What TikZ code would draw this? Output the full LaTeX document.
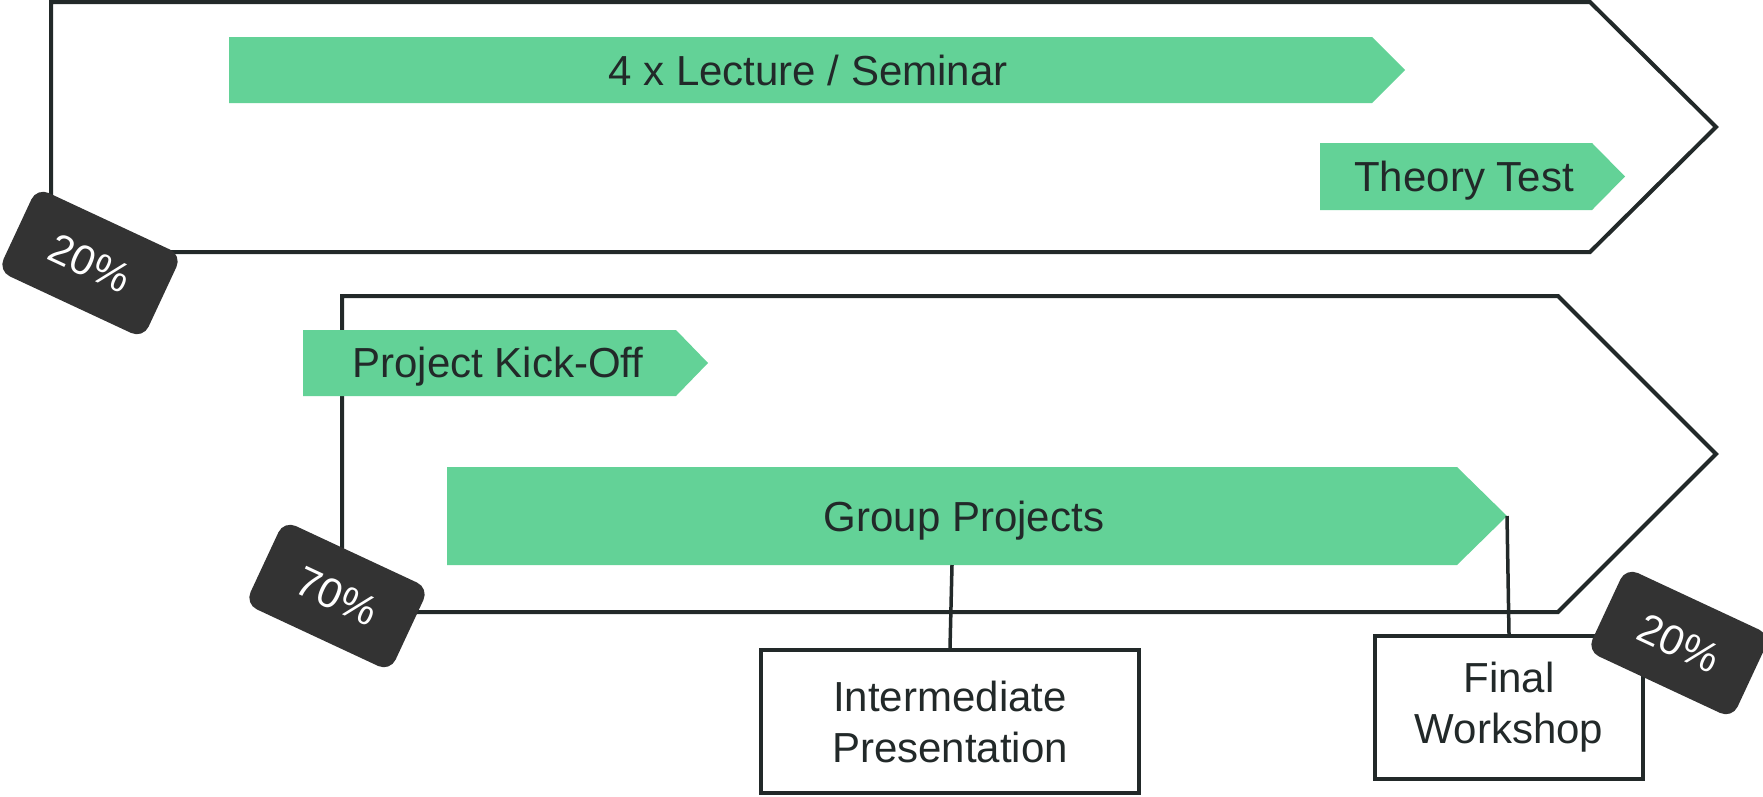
\documentclass[tikz,border=0pt]{standalone}
\usepackage{fontspec}
\setmainfont{Liberation Sans}
\definecolor{grn}{HTML}{63D297}
\definecolor{ink}{HTML}{222929}
\definecolor{tagc}{HTML}{333333}
\begin{document}
\begin{tikzpicture}[x=1pt,y=-1pt,
  outline/.style={draw=ink,line width=4pt,line join=miter},
  bar/.style={fill=grn},
  lbl/.style={text=ink,font=\fontsize{42}{52}\selectfont,inner sep=0pt,anchor=base},
  tagbox/.style={fill=tagc,rounded corners=13pt,minimum width=160pt,minimum height=92pt,rotate=-25,text=white,font=\fontsize{42}{48}\selectfont,inner sep=0pt},
  evbox/.style={draw=ink,line width=4pt,fill=white,align=center,text=ink,font=\fontsize{42}{51}\selectfont,inner sep=0pt},
  link/.style={draw=ink,line width=3.5pt}
]
\useasboundingbox (0,0) rectangle (1763,796);
\fill[white] (0,0) rectangle (1763,796);

% phase outlines
\draw[outline] (51,2) -- (1590,2) -- (1716,127) -- (1590,252) -- (51,252) -- cycle;
\draw[outline] (342,296) -- (1558,296) -- (1716,454) -- (1558,612) -- (342,612) -- cycle;

% green activity arrows
\fill[bar] (229,37) -- (1372,37) -- (1405,70) -- (1372,103) -- (229,103) -- cycle;
\fill[bar] (1320,143) -- (1592,143) -- (1625,176.5) -- (1592,210) -- (1320,210) -- cycle;
\fill[bar] (303,330) -- (676,330) -- (708,363) -- (676,396) -- (303,396) -- cycle;
\fill[bar] (447,467) -- (1457,467) -- (1507,516) -- (1457,565) -- (447,565) -- cycle;

\node[lbl] (lecture) at (808,85) {4 x Lecture / Seminar};
\node[lbl] (theory) at (1464,191.5) {Theory Test};
\node[lbl] (kickoff) at (498,377.5) {Project Kick-Off};
\node[lbl] (group) at (964,531) {Group Projects};

\coordinate (gbot) at (952,565);
\coordinate (gtip) at (1507,516);

% milestone boxes
\node[evbox,minimum width=378pt,minimum height=143pt] (inter) at (950,721.5) {Intermediate\\Presentation};
\node[evbox,minimum width=268pt,minimum height=143pt] (final) at (1509,707.5) {Final\\Workshop};

\draw[link] (gbot) -- (inter.north);
\draw[link] (gtip) -- (final.north);

% weight tags
\node[tagbox] (t1) at (90,263) {20\%};
\node[tagbox] (t2) at (337,596) {70\%};
\node[tagbox] (t3) at (1679,643) {20\%};
\end{tikzpicture}
\end{document}
